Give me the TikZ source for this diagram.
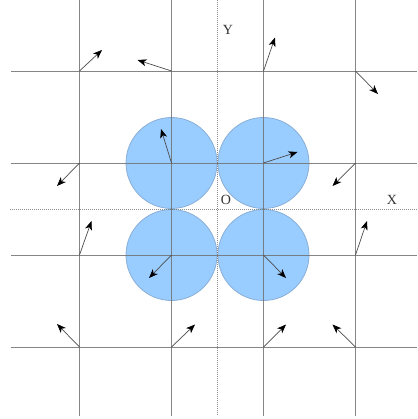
\documentclass[tikz,border=0pt]{standalone}
\usepackage{fontspec}
\setmainfont{Liberation Serif}
\usetikzlibrary{arrows.meta}
\definecolor{discfill}{HTML}{99CCFF}
\definecolor{discdraw}{HTML}{8AAFD6}
\definecolor{gridgray}{HTML}{707070}
\begin{document}
\begin{tikzpicture}[x=1pt,y=-1pt,
  gridline/.style={draw=gridgray,line width=0.9pt,draw opacity=0.85},
  axisline/.style={draw=gridgray,line width=0.8pt,dash pattern=on 1pt off 1pt,draw opacity=0.8},
  disc/.style={fill=discfill,draw=discdraw,line width=0.8pt},
  vec/.style={draw=black!70,line width=0.7pt,-{Stealth[length=9pt,width=7pt,inset=2.5pt,color=black]}},
  lbl/.style={font=\fontsize{14}{16}\selectfont,inner sep=0pt,text=black!80}]
\useasboundingbox (0,0) rectangle (417,419);
% discs
\foreach \cx/\cy in {171.5/163,263.5/163,171.5/255,263.5/255}
  \filldraw[disc] (\cx,\cy) circle[radius=45.5];
% grid lines
\foreach \x in {79.5,171.5,263.5,355.5} \draw[gridline] (\x,0) -- (\x,416);
\foreach \y in {71,163,255,347} \draw[gridline] (11,\y) -- (417,\y);
% axes
\draw[axisline] (217.5,0) -- (217.5,416);
\draw[axisline] (10,209) -- (417,209);
% lattice points
\coordinate (p11) at (79.5,71);  \coordinate (p21) at (171.5,71);
\coordinate (p31) at (263.5,71); \coordinate (p41) at (355.5,71);
\coordinate (p12) at (79.5,163);  \coordinate (p22) at (171.5,163);
\coordinate (p32) at (263.5,163); \coordinate (p42) at (355.5,163);
\coordinate (p13) at (79.5,255);  \coordinate (p23) at (171.5,255);
\coordinate (p33) at (263.5,255); \coordinate (p43) at (355.5,255);
\coordinate (p14) at (79.5,347);  \coordinate (p24) at (171.5,347);
\coordinate (p34) at (263.5,347); \coordinate (p44) at (355.5,347);
% arrow tips
\coordinate (t11) at (102,50);   \coordinate (t21) at (137.5,60);
\coordinate (t31) at (275,37.5); \coordinate (t41) at (378,94);
\coordinate (t12) at (57,186);   \coordinate (t22) at (161,129);
\coordinate (t32) at (297.5,152); \coordinate (t42) at (332.5,186);
\coordinate (t13) at (91.5,221); \coordinate (t23) at (149,278);
\coordinate (t33) at (286,278);  \coordinate (t43) at (367,221);
\coordinate (t14) at (57,324);   \coordinate (t24) at (195,324.5);
\coordinate (t34) at (286,324.5); \coordinate (t44) at (332.5,324.5);
\foreach \i in {11,21,31,41,12,22,32,42,13,23,33,43,14,24,34,44}
  \draw[vec] (p\i) -- (t\i);
% labels
\node[lbl] (ylab) at (228,29.5) {Y};
\node[lbl] (olab) at (226,200) {O};
\node[lbl] (xlab) at (392,200) {X};
\end{tikzpicture}
\end{document}
